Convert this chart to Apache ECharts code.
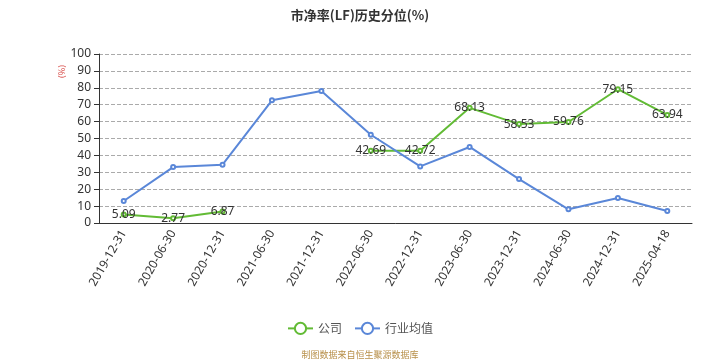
<!DOCTYPE html>
<html><head><meta charset="utf-8">
<script src="https://cdn.jsdelivr.net/npm/echarts@6/dist/echarts.min.js"></script>
<style>html,body{margin:0;padding:0;background:#fff}#c{width:720px;height:360px}</style>
</head><body><div id="c"></div>
<script>
var categories = ['2019-12-31','2020-06-30','2020-12-31','2021-06-30','2021-12-31','2022-06-30','2022-12-31','2023-06-30','2023-12-31','2024-06-30','2024-12-31','2025-04-18'];
var companyValues = [5.09, 2.77, 6.87, null, null, 42.69, 42.72, 68.13, 58.53, 59.76, 79.15, 63.94];
var industryValues = [13.0, 33.1, 34.5, 72.6, 78.1, 52.2, 33.5, 45.0, 26.0, 8.1, 14.8, 7.1];
var yTicks = {min: 0, max: 100, interval: 10};

var chart = echarts.init(document.getElementById('c'));
chart.setOption({
  animation: false,
  title: {text: '市净率(LF)历史分位(%)', left: 'center', top: 4,
    textStyle: {fontSize: 13, fontWeight: 'bold', color: '#333', fontFamily: 'Noto Sans CJK SC'}},
  grid: {left: 99, right: 28, top: 54, bottom: 137},
  legend: {bottom: 20, left: 'center', itemWidth: 25, itemHeight: 14, itemGap: 12,
    textStyle: {fontSize: 12, color: '#555', fontFamily: 'Noto Sans CJK SC'},
    data: ['公司', '行业均值']},
  graphic: [
    {type: 'text', x: 58, y: 78, rotation: Math.PI / 2,
      style: {text: '(%)', fill: '#d9534f', fontSize: 9, fontFamily: 'Noto Sans'}},
    {type: 'text', left: 'center', top: 350,
      style: {text: '制图数据来自恒生聚源数据库', fill: '#b8904a', fontSize: 9, fontFamily: 'Noto Sans CJK SC'}}
  ],
  xAxis: {type: 'category', data: categories, boundaryGap: true,
    axisLine: {lineStyle: {color: '#333'}},
    axisTick: {lineStyle: {color: '#333'}},
    axisLabel: {rotate: 60, color: '#333', fontSize: 12, interval: 0, fontFamily: 'Noto Sans'}},
  yAxis: {type: 'value', min: yTicks.min, max: yTicks.max, interval: yTicks.interval,
    axisLine: {show: true, lineStyle: {color: '#333'}},
    axisTick: {show: true, lineStyle: {color: '#333'}},
    axisLabel: {color: '#333', fontSize: 12, fontFamily: 'Noto Sans'},
    splitLine: {lineStyle: {type: 'dashed', color: '#aaa'}}},
  series: [
    {name: '公司', type: 'line', data: companyValues, connectNulls: false,
      symbol: 'emptyCircle', symbolSize: 4,
      itemStyle: {color: '#62bb35'}, lineStyle: {width: 2, color: '#62bb35'},
      label: {show: true, position: 'inside', color: '#333', fontSize: 12, fontFamily: 'Noto Sans'}},
    {name: '行业均值', type: 'line', data: industryValues,
      symbol: 'emptyCircle', symbolSize: 4,
      itemStyle: {color: '#5a87d8'}, lineStyle: {width: 2, color: '#5a87d8'}}
  ]
});
</script></body></html>
